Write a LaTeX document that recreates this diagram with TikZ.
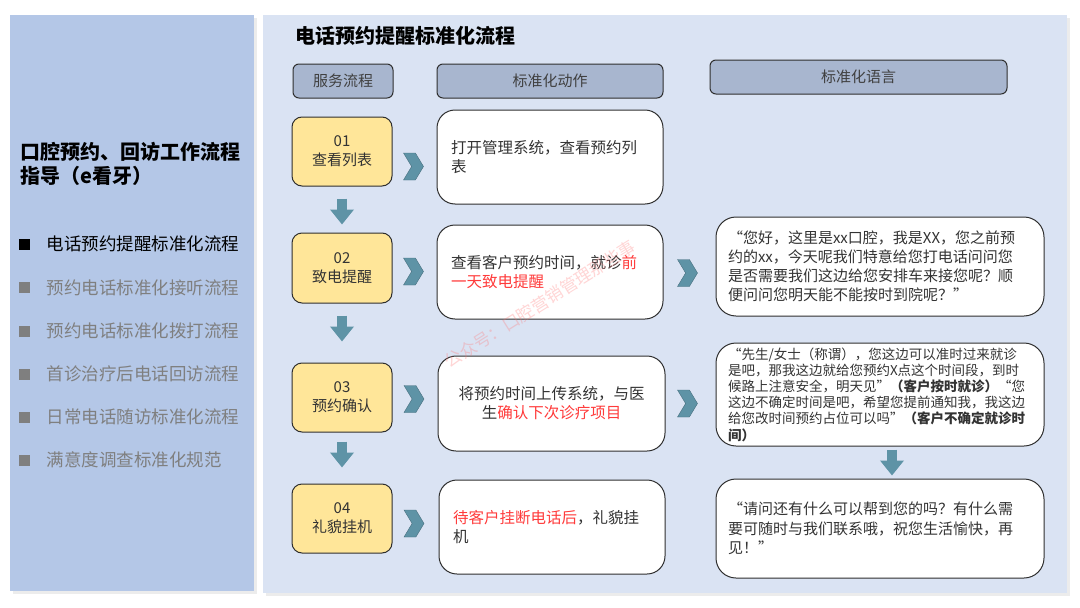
\documentclass[tikz,border=0pt]{standalone}
\usepackage{fontspec}
\setmainfont{Noto Sans CJK SC}
\usepackage{xcolor}
\usetikzlibrary{positioning, shapes.symbols, arrows.meta, shadows, calc}

\definecolor{sideBlue}{HTML}{B4C7E7}
\definecolor{mainBlue}{HTML}{DAE3F3}
\definecolor{headGray}{HTML}{A8B6CF}
\definecolor{stepYellow}{HTML}{FFE699}
\definecolor{arrowTeal}{HTML}{5E93A6}
\definecolor{lineDark}{HTML}{2F2F2F}
\definecolor{hiRed}{HTML}{FF3B3B}
\definecolor{menuGray}{HTML}{7F7F7F}

\begin{document}
\begin{tikzpicture}[x=1pt, y=-1pt,
		panelbox/.style={rectangle, inner sep=0pt, drop shadow={shadow xshift=3pt, shadow yshift=-3pt, opacity=0.15}},
		headbox/.style={rectangle, rounded corners=6pt, draw=lineDark, line width=1pt, fill=headGray, minimum height=34pt, text=black!75, font=\fontsize{15}{18}\selectfont},
		stepbox/.style={rectangle, rounded corners=10pt, draw=lineDark, line width=1pt, fill=stepYellow, minimum width=100pt, minimum height=69pt, align=center, text=black!80, font=\fontsize{15}{19}\selectfont},
		actbox/.style={rectangle, rounded corners=18pt, draw=lineDark, line width=1pt, fill=white, minimum width=226pt, minimum height=94pt, inner xsep=14pt, text width=198pt, align=left, text=black!80, font=\fontsize{15.5}{19}\selectfont},
		langbox/.style={rectangle, rounded corners=20pt, draw=lineDark, line width=1pt, fill=white, minimum width=328pt, inner xsep=12pt, text width=304pt, align=left, text=black!80},
		chev/.style={signal, signal from=west, signal to=east, signal pointer angle=118, fill=arrowTeal, draw=arrowTeal!75!black, line width=0.4pt, minimum width=20pt, minimum height=27pt, inner sep=0pt},
		downarrow/.style={draw=arrowTeal, line width=10pt, -{Triangle[width=23pt, length=15pt]}},
		menuitem/.style={anchor=west, text=menuGray, font=\fontsize{17.5}{21}\selectfont},
		menubullet/.style={rectangle, fill=menuGray, minimum size=11pt, inner sep=0pt}
	]
		\useasboundingbox (0,0) rectangle (1080,608);
		\fill[white] (0,0) rectangle (1080,608);

		% panels
		\node (sidePanel)[panelbox, fill=sideBlue, minimum width=244pt, minimum height=576pt] at (132,303) {};
		\node (mainPanel)[panelbox, fill=mainBlue, minimum width=804pt, minimum height=578pt] at (665,304) {};

		% left menu
		\node (guideTitle)[anchor=west, align=left, font=\fontsize{20}{24}\selectfont\bfseries] at (17,164) {口腔预约、回访工作流程\\指导（e看牙）};
		\node (bulletA)[menubullet, fill=black] at (24.5,244) {};
		\node (menuA)[menuitem, text=black] at (43,244) {电话预约提醒标准化流程};
		\node (bulletB)[menubullet] at (24.5,287.5) {};
		\node (menuB)[menuitem] at (43,287.5) {预约电话标准化接听流程};
		\node (bulletC)[menubullet] at (24.5,331) {};
		\node (menuC)[menuitem] at (43,331) {预约电话标准化拨打流程};
		\node (bulletD)[menubullet] at (24.5,374) {};
		\node (menuD)[menuitem] at (43,374) {首诊治疗后电话回访流程};
		\node (bulletE)[menubullet] at (24.5,417) {};
		\node (menuE)[menuitem] at (43,417) {日常电话随访标准化流程};
		\node (bulletF)[menubullet] at (24.5,460) {};
		\node (menuF)[menuitem] at (43,460) {满意度调查标准化规范};

		% headers
		\node (flowTitle)[anchor=west, font=\fontsize{20}{24}\selectfont\bfseries] at (292,36) {电话预约提醒标准化流程};
		\node (svcHead)[headbox, minimum width=100pt] at (343,81) {服务流程};
		\node (actHead)[headbox, minimum width=226pt] at (550,81) {标准化动作};
		\node (langHead)[headbox, minimum width=297pt] at (858.5,77) {标准化语言};

		% steps
		\node (s1)[stepbox] at (342,151.5) {01\\查看列表};
		\node (s2)[stepbox, minimum height=70pt] at (342,268) {02\\致电提醒};
		\node (s3)[stepbox] at (342,397.5) {03\\预约确认};
		\node (s4)[stepbox] at (342,518.5) {04\\礼貌挂机};

		% actions
		\node (a1)[actbox] at (550,157) {打开管理系统，查看预约列\\表};
		\node (a2)[actbox] at (550,272) {查看客户预约时间，就诊\textcolor{hiRed}{前}\\\textcolor{hiRed}{一天致电提醒}};
		\node (a3)[actbox, minimum width=227pt, minimum height=95pt, align=center] at (551.5,403.5) {将预约时间上传系统，与医\\生\textcolor{hiRed}{确认下次诊疗项目}};
		\node (a4)[actbox] at (552,527) {\textcolor{hiRed}{待客户挂断电话后}，礼貌挂\\机};

		% scripts
		\node (l2)[langbox, minimum height=99pt, font=\fontsize{15}{19}\selectfont] at (880,266.5) {“您好，这里是xx口腔，我是XX，您之前预\\约的xx，今天呢我们特意给您打电话问问您\\是否需要我们这边给您安排车来接您呢？顺\\便问问您明天能不能按时到院呢？”};
		\node (l3)[langbox, minimum height=103pt, font=\fontsize{13.5}{16.2}\selectfont] at (880,394.5) {“先生/女士（称谓），您这边可以准时过来就诊\\是吧，那我这边就给您预约X点这个时间段，到时\\候路上注意安全，明天见”\textbf{（客户按时就诊）}“您\\这边不确定时间是吧，希望您提前通知我，我这边\\给您改时间预约占位可以吗”\textbf{（客户不确定就诊时}\\\textbf{间）}};
		\node (l4)[langbox, minimum height=99pt, font=\fontsize{15}{19.5}\selectfont] at (880,528.5) {“请问还有什么可以帮到您的吗？有什么需\\要可随时与我们联系哦，祝您生活愉快，再\\见！”};

		% chevrons
		\node (c1)[chev] at (413.5,166.5) {};
		\node (c2)[chev] at (413.5,271.5) {};
		\node (c3)[chev] at (414,399) {};
		\node (c4)[chev] at (414,523.5) {};
		\node (c5)[chev] at (687.5,273) {};
		\node (c6)[chev] at (687.5,403.5) {};

		% down arrows
		\draw[downarrow, shorten <=12pt, shorten >=8pt] (s1) -- (s2);
		\draw[downarrow, shorten <=12pt, shorten >=21pt] (s2) -- (s3);
		\draw[downarrow, shorten <=9pt, shorten >=16pt] (s3) -- (s4);
		\draw[downarrow, shorten <=3pt, shorten >=3pt] ([xshift=12pt]l3.south) -- ([xshift=12pt]l4.north);

		% watermark
		\node (watermark)[rotate=32, text=hiRed!70, opacity=0.3, font=\fontsize{17}{17}\selectfont] at (540,304) {公众号：口腔营销管理那些事};
	\end{tikzpicture}
\end{document}
